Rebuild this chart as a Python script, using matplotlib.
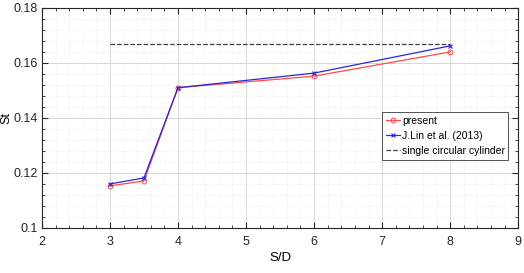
import numpy as np
import matplotlib.pyplot as plt
from matplotlib.ticker import MultipleLocator

plt.rcParams['font.family'] = ['Liberation Sans', 'DejaVu Sans']

sd = [3, 3.5, 4, 6, 8]
st_present = [0.1153, 0.1171, 0.151, 0.1552, 0.164]
st_lin = [0.116, 0.1182, 0.151, 0.1563, 0.1662]
single_x = [3, 8]
single_st = [0.167, 0.167]

fig = plt.figure(figsize=(5.24, 2.73), dpi=100)
ax = fig.add_axes([0.08, 0.165, 0.909, 0.806])

ax.plot(sd, st_present, '-o', color='#ff4848', lw=0.9, ms=3.5, mfc='none', mew=0.7, label='present')
ax.plot(sd, st_lin, '-x', color='#2828d8', lw=0.9, ms=3.5, mew=0.8, label='J.Lin et al. (2013)')
ax.plot(single_x, single_st, '--', color='#404040', lw=0.9, label='single circular cylinder')

ax.set_xlim(2, 9)
ax.set_ylim(0.1, 0.18)
ax.xaxis.set_major_locator(MultipleLocator(1))
ax.yaxis.set_major_locator(MultipleLocator(0.02))
ax.xaxis.set_minor_locator(MultipleLocator(0.2))
ax.yaxis.set_minor_locator(MultipleLocator(0.004))
ax.yaxis.set_major_formatter(plt.FuncFormatter(lambda v, p: '%g' % round(v, 3)))

ax.grid(True, which='major', color='#d8d8d8', lw=0.7)
ax.grid(True, which='minor', color='#e8e8e8', lw=0.5, ls=':')
ax.tick_params(which='both', direction='in', top=True, right=True, labelsize=9, colors='#262626')
ax.tick_params(axis='x', which='major', pad=6)
ax.tick_params(axis='y', which='major', pad=3)
ax.tick_params(which='major', length=4)
ax.tick_params(which='minor', length=2)
for s in ax.spines.values():
    s.set_color('#262626')
    s.set_linewidth(0.8)

ax.set_xlabel('S/D', fontsize=9.5, labelpad=3)
ax.set_ylabel('St', fontsize=9)
ax.yaxis.set_label_coords(-0.063, 0.5)

leg = ax.legend(loc='upper left', bbox_to_anchor=(0.714, 0.527), fontsize=7.5, frameon=True,
                fancybox=False, edgecolor='#262626', handlelength=1.4, handletextpad=0.15,
                borderpad=0.35, labelspacing=0.5, borderaxespad=0)
leg.get_frame().set_linewidth(0.7)

fig.savefig('out.png', dpi=100)
